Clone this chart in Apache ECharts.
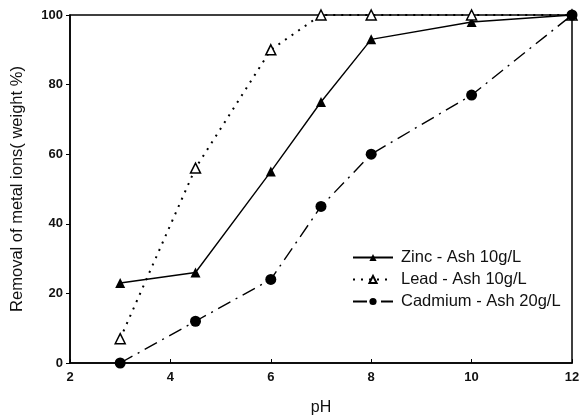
<!DOCTYPE html>
<html><head><meta charset="utf-8">
<script src="https://cdn.jsdelivr.net/npm/echarts@6/dist/echarts.min.js"></script>
<style>html,body{margin:0;padding:0;background:#fff}#c{width:581px;height:419px}</style>
</head><body><div id="c"></div>
<script>
const pH = [3, 4.5, 6, 7, 8, 10, 12];
const zinc = [23, 26, 55, 75, 93, 98, 100];
const lead = [7, 56, 90, 100, 100, 100, 100];
const cadmium = [0, 12, 24, 45, 60, 77, 100];
const seriesNames = ['Zinc - Ash 10g/L', 'Lead - Ash 10g/L', 'Cadmium - Ash 20g/L'];
const xTicks = [2, 4, 6, 8, 10, 12];
const yTicks = [0, 20, 40, 60, 80, 100];

const pairs = a => pH.map((x, i) => [x, a[i]]);
const font = 'Liberation Sans, Arial, sans-serif';
const chart = echarts.init(document.getElementById('c'));
chart.setOption({
  animation: false,
  backgroundColor: '#fff',
  grid: { left: 70, right: 9, top: 15, bottom: 56, outerBoundsMode: 'none', containLabel: false,
          show: true, borderColor: '#000', borderWidth: 1.5, backgroundColor: 'transparent' },
  legend: {
    orient: 'vertical', left: 352, top: 249, padding: 0, itemGap: 5, itemWidth: 40, itemHeight: 9,
    textStyle: { fontFamily: font, fontSize: 16.5, color: '#111', padding: [0, 0, 0, 3] },
    data: seriesNames
  },
  xAxis: {
    type: 'value', min: xTicks[0], max: xTicks[xTicks.length - 1], interval: 2,
    name: 'pH', nameLocation: 'middle', nameGap: 37,
    nameTextStyle: { fontFamily: font, fontSize: 16, color: '#111' },
    axisLine: { lineStyle: { color: '#000', width: 1.5 } },
    axisTick: { inside: true, length: 4, lineStyle: { color: '#000' } },
    axisLabel: { fontFamily: font, fontSize: 13, fontWeight: 'bold', color: '#111', margin: 8 },
    splitLine: { show: false }
  },
  yAxis: {
    type: 'value', min: yTicks[0], max: yTicks[yTicks.length - 1], interval: 20,
    name: 'Removal of metal ions( weight %)', nameLocation: 'middle', nameGap: 44,
    nameTextStyle: { fontFamily: font, fontSize: 16.5, color: '#111' },
    axisLine: { lineStyle: { color: '#000', width: 1.5 } },
    axisTick: { inside: false, length: 4, lineStyle: { color: '#000' } },
    axisLabel: { fontFamily: font, fontSize: 13, fontWeight: 'bold', color: '#111', margin: 7 },
    splitLine: { show: false }
  },
  series: [
    { name: seriesNames[0], type: 'line', data: pairs(zinc), symbol: 'triangle', symbolSize: 10,
      itemStyle: { color: '#000' }, lineStyle: { color: '#000', width: 1.4, type: 'solid' } },
    { name: seriesNames[1], type: 'line', data: pairs(lead), symbol: 'triangle', symbolSize: 10,
      itemStyle: { color: '#fff', borderColor: '#000', borderWidth: 1.5 }, lineStyle: { color: '#000', width: 2, type: [2, 6] } },
    { name: seriesNames[2], type: 'line', data: pairs(cadmium), symbol: 'circle', symbolSize: 11,
      itemStyle: { color: '#000' }, lineStyle: { color: '#000', width: 1.4, type: [14, 6, 2, 6] } }
  ]
});
</script></body></html>
